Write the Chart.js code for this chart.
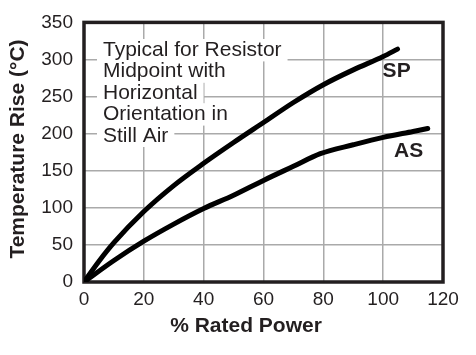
<!DOCTYPE html>
<html>
<head>
<meta charset="utf-8">
<script src="https://cdn.jsdelivr.net/npm/chart.js@4/dist/chart.umd.min.js"></script>
<style>
  html, body { margin: 0; padding: 0; background: #ffffff; }
  #wrap { width: 476px; height: 355px; position: relative; }
</style>
</head>
<body>
<div id="wrap"><canvas id="c" width="476" height="355"></canvas></div>
<script>
// ---- Data ----
const spPower = [0, 5, 10, 20, 30, 40, 50, 60, 70, 80, 90, 100, 104.8];
const spRise  = [0, 28, 53, 95, 130, 160, 188, 215, 242, 266, 286, 304, 314];
const asPower = [0, 10, 20, 30, 40, 50, 60, 70, 79, 90, 100, 110, 114.9];
const asRise  = [0, 29, 55, 78, 99, 117, 137, 156, 173, 185, 195, 203, 207];
const xTicks = [0, 20, 40, 60, 80, 100, 120];
const yTicks = [0, 50, 100, 150, 200, 250, 300, 350];
const seriesNames = ['SP', 'AS'];
const xTitle = '% Rated Power';
const yTitle = 'Temperature Rise (°C)';
const noteLines = ['Typical for Resistor', 'Midpoint with', 'Horizontal', 'Orientation in', 'Still Air'];

const toPts = (xs, ys) => xs.map((x, i) => ({ x: x, y: ys[i] }));
const INK = '#231f20';
const FONT = "'Liberation Sans', Arial, Helvetica, sans-serif";

const decor = {
  id: 'decor',
  beforeDatasetsDraw(chart) {
    const ctx = chart.ctx;
    const a = chart.chartArea;
    ctx.save();
    ctx.strokeStyle = INK;
    ctx.lineWidth = 3.5;
    ctx.strokeRect(a.left, a.top, a.right - a.left, a.bottom - a.top);
    ctx.font = '21px ' + FONT;
    ctx.textBaseline = 'alphabetic';
    ctx.textAlign = 'left';
    const x0 = 103, b0 = 56, lh = 21.4;
    noteLines.forEach((t, i) => {
      const w = ctx.measureText(t).width;
      ctx.fillStyle = '#ffffff';
      ctx.fillRect(x0 - 6, b0 + i * lh - 17, w + 12, lh + 1);
    });
    ctx.fillStyle = INK;
    noteLines.forEach((t, i) => ctx.fillText(t, x0, b0 + i * lh));
    ctx.restore();
  },
  afterDatasetsDraw(chart) {
    const ctx = chart.ctx;
    const xs = chart.scales.x, ys = chart.scales.y;
    ctx.save();
    ctx.fillStyle = INK;
    ctx.font = 'bold 21px ' + FONT;
    ctx.textAlign = 'center';
    ctx.textBaseline = 'middle';
    ctx.fillText(seriesNames[0], xs.getPixelForValue(104.5), ys.getPixelForValue(284));
    ctx.fillText(seriesNames[1], xs.getPixelForValue(108.5), ys.getPixelForValue(177));
    ctx.fillText(xTitle, 246, 326);
    ctx.translate(18, 149);
    ctx.rotate(-Math.PI / 2);
    ctx.fillText(yTitle, 0, 0);
    ctx.restore();
  }
};

new Chart(document.getElementById('c'), {
  type: 'scatter',
  data: {
    datasets: [
      { label: seriesNames[0], data: toPts(spPower, spRise) },
      { label: seriesNames[1], data: toPts(asPower, asRise) }
    ]
  },
  options: {
    responsive: false,
    animation: false,
    devicePixelRatio: 1,
    showLine: true,
    layout: { padding: { top: 18, right: 33, left: 0, bottom: 0 } },
    elements: {
      point: { radius: 0, hoverRadius: 0 },
      line: { borderColor: '#000000', borderWidth: 5, cubicInterpolationMode: 'monotone', borderCapStyle: 'round', borderJoinStyle: 'round', fill: false }
    },
    plugins: { legend: { display: false }, tooltip: { enabled: false } },
    scales: {
      x: {
        type: 'linear', min: 0, max: 120,
        afterBuildTicks: s => { s.ticks = xTicks.map(v => ({ value: v })); },
        afterFit: s => { s.height = 73; },
        grid: { color: '#aaaaaa', lineWidth: 1.5, drawTicks: false },
        border: { display: false },
        ticks: { color: INK, font: { family: FONT, size: 19 }, padding: 6, maxRotation: 0 }
      },
      y: {
        type: 'linear', min: 0, max: 350,
        afterBuildTicks: s => { s.ticks = yTicks.map(v => ({ value: v })); },
        afterFit: s => { s.width = 84; },
        grid: { color: '#aaaaaa', lineWidth: 1.5, drawTicks: false },
        border: { display: false },
        ticks: { color: INK, font: { family: FONT, size: 19 }, padding: 11 }
      }
    }
  },
  plugins: [decor]
});
</script>
</body>
</html>
